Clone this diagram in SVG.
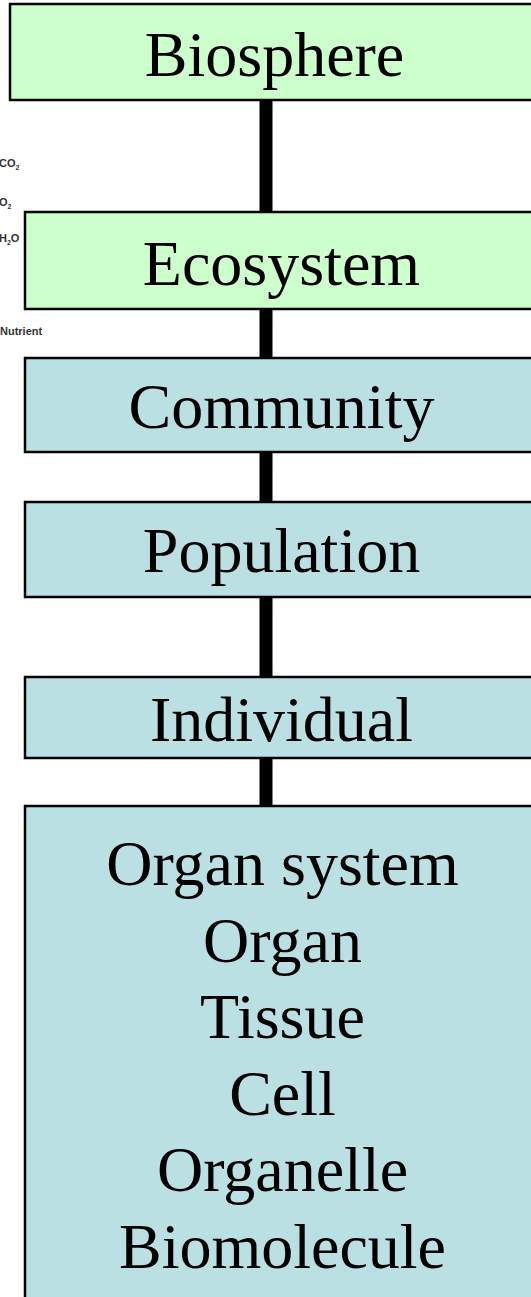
<svg xmlns="http://www.w3.org/2000/svg" width="531" height="1297" viewBox="0 0 531 1297">
<style>
.box{stroke:#000;stroke-width:2.5}
.green{fill:#CCFFCC}
.blue{fill:#BBE0E3}
.lbl{font-family:"Liberation Serif","Times New Roman",serif;font-size:64px;fill:#000;text-anchor:middle}
.side{font-family:"Liberation Sans",Arial,sans-serif;font-size:11px;font-weight:bold;fill:#333}
.sub{font-size:7px}
.conn{stroke:#000;stroke-width:13;fill:none}
</style>
<rect width="531" height="1297" fill="#fff"/>
<g id="side-labels">
<text class="side" x="-1" y="167">CO<tspan class="sub" dy="3">2</tspan></text>
<text class="side" x="-1" y="206">O<tspan class="sub" dy="3">2</tspan></text>
<text class="side" x="-1" y="242">H<tspan class="sub" dy="3">2</tspan><tspan dy="-3">O</tspan></text>
<text class="side" x="0" y="335">Nutrient</text>
</g>
<g id="connectors">
<line class="conn" x1="266" y1="100" x2="266" y2="212"/>
<line class="conn" x1="266" y1="309" x2="266" y2="358"/>
<line class="conn" x1="266" y1="452" x2="266" y2="502"/>
<line class="conn" x1="266" y1="597" x2="266" y2="677"/>
<line class="conn" x1="266" y1="758" x2="266" y2="806"/>
</g>
<g id="biosphere">
<rect class="box green" x="10" y="4" width="540" height="96"/>
<text class="lbl" x="274.5" y="76">Biosphere</text>
</g>
<g id="ecosystem">
<rect class="box green" x="25" y="212" width="525" height="97"/>
<text class="lbl" x="281.5" y="285">Ecosystem</text>
</g>
<g id="community">
<rect class="box blue" x="25" y="358" width="525" height="94"/>
<text class="lbl" x="281.5" y="428">Community</text>
</g>
<g id="population">
<rect class="box blue" x="25" y="502" width="525" height="95"/>
<text class="lbl" x="281.5" y="572">Population</text>
</g>
<g id="individual">
<rect class="box blue" x="25" y="677" width="525" height="81"/>
<text class="lbl" x="281.5" y="741">Individual</text>
</g>
<g id="suborganism">
<rect class="box blue" x="25" y="806" width="525" height="510"/>
<text class="lbl" x="282.5" y="885">Organ system</text>
<text class="lbl" x="282.5" y="961.6">Organ</text>
<text class="lbl" x="282.5" y="1038.2">Tissue</text>
<text class="lbl" x="282.5" y="1114.8">Cell</text>
<text class="lbl" x="282.5" y="1191.4">Organelle</text>
<text class="lbl" x="282.5" y="1268">Biomolecule</text>
</g>
</svg>
